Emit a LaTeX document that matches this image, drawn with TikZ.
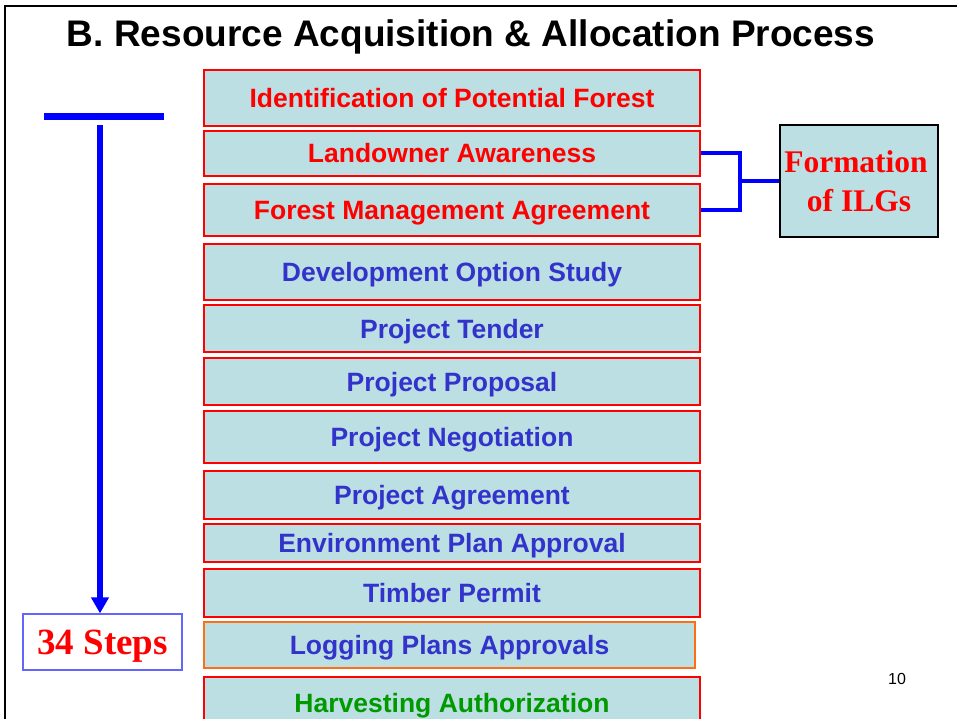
\documentclass[tikz,border=0pt]{standalone}
\usepackage{fontspec}
\setmainfont{Liberation Serif}
\newfontfamily\arialfont{Liberation Sans}
\usetikzlibrary{arrows.meta}
\definecolor{boxfill}{RGB}{187,223,226}
\definecolor{txtblue}{RGB}{51,51,204}
\definecolor{txtgreen}{RGB}{0,153,0}
\definecolor{txtred}{RGB}{255,0,0}
\definecolor{lineblue}{RGB}{0,0,255}
\definecolor{orangeedge}{RGB}{255,110,20}
\definecolor{stepsedge}{RGB}{100,100,255}
\tikzset{
  stepbox/.style={draw=txtred, line width=1.2pt, fill=boxfill, inner sep=0pt,
    minimum width=496pt, text height=19pt, text depth=0pt,
    font=\arialfont\bfseries\fontsize{26.5}{30}\selectfont},
  redtxt/.style={text=txtred},
  bluetxt/.style={text=txtblue},
  greentxt/.style={text=txtgreen},
  bracket/.style={draw=lineblue, line width=4pt},
}
\begin{document}
\begin{tikzpicture}[x=1pt,y=-1pt]
\useasboundingbox (0,0) rectangle (957,719);
\clip (0,0) rectangle (957,719);
\fill[white] (0,0) rectangle (957,719);
% slide frame
\draw[black, line width=2pt] (5,730) -- (5,6) -- (970,6);
% title
\node[anchor=base, inner sep=0pt, font=\arialfont\bfseries\fontsize{37}{42}\selectfont] (title) at (471,47) {B. Resource Acquisition \& Allocation Process};
% step boxes
\node[stepbox, redtxt, minimum height=56pt] (b1) at (452,98) {Identification of Potential Forest};
\node[stepbox, redtxt, minimum height=45pt] (b2) at (452,153.5) {Landowner Awareness};
\node[stepbox, redtxt, minimum height=52pt] (b3) at (452,210) {Forest Management Agreement};
\node[stepbox, bluetxt, minimum height=56pt] (b4) at (452,272) {Development Option Study};
\node[stepbox, bluetxt, minimum height=47pt] (b5) at (452,328.5) {Project Tender};
\node[stepbox, bluetxt, minimum height=47pt] (b6) at (452,381.5) {Project Proposal};
\node[stepbox, bluetxt, minimum height=52pt] (b7) at (452,437) {Project Negotiation};
\node[stepbox, bluetxt, minimum height=48pt] (b8) at (452,495) {Project Agreement};
\node[stepbox, bluetxt, minimum height=38pt] (b9) at (452,543) {Environment Plan Approval};
\node[stepbox, bluetxt, minimum height=48pt] (b10) at (452,593) {Timber Permit};
\node[stepbox, bluetxt, draw=orangeedge, minimum height=46pt, minimum width=491pt] (b11) at (449.5,645) {Logging Plans Approvals};
\node[stepbox, greentxt, minimum height=51pt] (b12) at (452,702.5) {Harvesting Authorization};
% ILG box
\node[draw=black, line width=1.3pt, fill=boxfill, minimum width=158pt, minimum height=112pt,
  inner sep=0pt, align=center, text=txtred,
  font=\bfseries\fontsize{31.5}{39}\selectfont] (ilg) at (859,181) {\hspace*{-6pt}Formation\\of ILGs};
\coordinate (junc) at (740,181);
\draw[bracket] (b2.east) -| (junc) |- (b3.east);
\draw[bracket] (junc) -- (ilg.west);
% left: bar, arrow, steps
\draw[lineblue, line width=7pt] (44,117) -- (164,117);
\node[draw=stepsedge, line width=1.2pt, fill=white, minimum width=159pt, minimum height=56pt,
  inner sep=0pt, text=txtred, text height=25pt, text depth=0pt,
  font=\bfseries\fontsize{37}{40}\selectfont] (steps) at (102.5,642) {34 Steps};
\coordinate (arrtop) at (100,125);
\draw[lineblue, line width=6pt, -{Triangle[width=17pt,length=16pt]}] (arrtop) -- (arrtop |- steps.north);
% page number
\node[inner sep=0pt, anchor=base, font=\arialfont\fontsize{16}{18}\selectfont] (pnum) at (897,684) {10};
\end{tikzpicture}
\end{document}
